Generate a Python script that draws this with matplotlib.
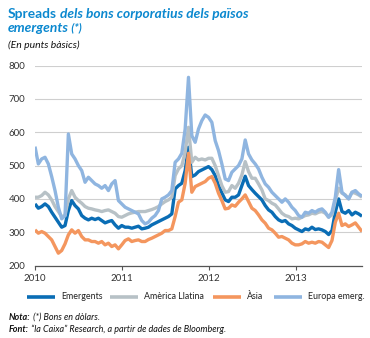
import matplotlib
matplotlib.use('Agg')
import matplotlib.pyplot as plt
import pandas as pd
from matplotlib.lines import Line2D

# ---------------- data (biweekly observations, basis points) ----------------
start_date = '2010-01-01'
step = '14D'

emergents = [385, 372, 377, 385, 377, 360, 345, 330, 315, 320,
             365, 395, 380, 370, 350, 342, 337, 342, 338, 342,
             335, 328, 332, 335, 322, 312, 320, 315, 315, 312,
             315, 318, 310, 312, 315, 322, 327, 332, 337, 342,
             347, 355, 430, 440, 447, 485, 555, 467, 472, 482,
             487, 492, 497, 488, 470, 440, 418, 397, 392, 405,
             405, 412, 440, 468, 440, 428, 417, 407, 397, 380,
             367, 360, 347, 337, 332, 335, 325, 320, 312, 307,
             302, 310, 307, 315, 308, 310, 307, 302, 293, 305,
             360, 400, 362, 357, 365, 352, 360, 355, 348]

america_llatina = [405, 405, 410, 420, 412, 397, 377, 362, 347, 350,
                   400, 425, 405, 395, 387, 377, 372, 370, 367, 365,
                   362, 365, 367, 362, 357, 347, 345, 350, 355, 358,
                   360, 362, 362, 362, 365, 368, 372, 377, 385, 392,
                   397, 405, 470, 490, 500, 540, 615, 510, 525, 517,
                   520, 517, 522, 522, 500, 470, 440, 420, 422, 440,
                   432, 447, 472, 512, 482, 462, 462, 445, 427, 400,
                   395, 387, 382, 370, 357, 350, 347, 340, 342, 340,
                   345, 350, 352, 357, 355, 360, 362, 357, 345, 352,
                   395, 432, 417, 412, 400, 420, 417, 412, 405]

asia = [307, 297, 302, 297, 287, 277, 257, 237, 245, 265,
        292, 307, 297, 305, 287, 277, 277, 272, 272, 267,
        272, 262, 267, 257, 262, 250, 262, 275, 280, 272,
        275, 277, 272, 272, 278, 282, 287, 292, 297, 305,
        305, 310, 347, 390, 397, 447, 537, 420, 437, 442,
        447, 452, 462, 467, 447, 417, 395, 370, 372, 382,
        378, 390, 400, 412, 392, 372, 365, 352, 337, 327,
        312, 307, 297, 285, 287, 282, 277, 267, 262, 262,
        265, 272, 267, 270, 267, 272, 270, 262, 254, 275,
        330, 357, 320, 325, 317, 322, 328, 315, 302]

europa = [557, 505, 520, 525, 505, 467, 425, 375, 340, 350,
          595, 535, 520, 500, 485, 450, 465, 455, 445, 440,
          432, 440, 425, 445, 455, 395, 385, 375, 370, 365,
          360, 355, 335, 325, 330, 342, 350, 365, 400, 405,
          412, 425, 510, 520, 537, 610, 765, 590, 570, 610,
          635, 652, 645, 630, 575, 545, 505, 460, 455, 480,
          490, 500, 520, 577, 535, 517, 505, 490, 465, 445,
          435, 420, 410, 400, 390, 400, 390, 375, 365, 350,
          345, 360, 357, 365, 360, 367, 370, 360, 345, 360,
          405, 488, 420, 410, 400, 420, 425, 415, 408]

series_names = ['Emergents', 'Amèrica Llatina', 'Àsia', 'Europa emerg.']
year_labels = ['2010', '2011', '2012', '2013']
y_ticks = [200, 300, 400, 500, 600, 700, 800]

title_part1 = 'Spreads'
title_part2 = ' dels bons corporatius dels països'
title_line2 = 'emergents'
title_star = ' (*)'
subtitle = '(En punts bàsics)'
note_bold = 'Nota:'
note_text = ' (*) Bons en dòlars.'
source_bold = 'Font:'
source_text = ' \u201Cla Caixa\u201D Research, a partir de dades de Bloomberg.'

# ---------------- style ----------------
colors = ['#0a6db5', '#b7c1c6', '#f4965e', '#8fb5e0']
title_color = '#0b88cf'
FONT = ['Lato', 'DejaVu Sans']
plt.rcParams['font.family'] = FONT

W, H = 370, 338
fig = plt.figure(figsize=(W / 100, H / 100), dpi=100)


def fx(x):
    return x / W


def fy(y):
    return 1 - y / H


ax = fig.add_axes([fx(35), fy(265.5), (362 - 35) / W, (265.5 - 65.7) / H])

dates = pd.date_range(start_date, periods=len(emergents), freq=step)
for vals, name, c in zip([emergents, america_llatina, asia, europa], series_names, colors):
    ax.plot(dates, vals, color=c, lw=2.4, solid_capstyle='butt', label=name)

ax.set_ylim(200, 800)
ax.set_xlim(dates[0], dates[-1])
ax.set_yticks(y_ticks)
ax.set_yticklabels([str(v) for v in y_ticks])
year_pos = [pd.Timestamp(f'{y}-01-01') for y in year_labels]
ax.set_xticks(year_pos)
ax.set_xticklabels(year_labels)

ax.yaxis.grid(True, color='#cfcfcf', lw=0.8)
ax.set_axisbelow(True)
for s in ['left', 'top', 'right']:
    ax.spines[s].set_visible(False)
ax.spines['bottom'].set_color('#555555')
ax.spines['bottom'].set_linewidth(0.9)
ax.tick_params(axis='y', length=0, pad=7, labelsize=7, labelcolor='#333333')
ax.tick_params(axis='x', length=3, width=0.8, color='#555555', pad=3,
               labelsize=7, labelcolor='#333333', direction='out')
ax.patch.set_visible(False)

# ---------------- titles ----------------
fig.canvas.draw()
renderer = fig.canvas.get_renderer()


def text_after(prev, s, **kw):
    bb = prev.get_window_extent(renderer)
    x0 = bb.x1 / fig.bbox.width
    y0 = prev.get_position()[1]
    return fig.text(x0, y0, s, va='baseline', **kw)


t1 = fig.text(fx(8), fy(17.5), title_part1, fontsize=9.9, fontweight='bold',
              color=title_color, va='baseline')
text_after(t1, title_part2, fontsize=9.9, fontweight='bold', fontstyle='italic',
           color=title_color)
t3 = fig.text(fx(8), fy(31.5), title_line2, fontsize=9.9, fontweight='bold',
              fontstyle='italic', color=title_color, va='baseline')
text_after(t3, title_star, fontsize=8, fontweight='bold', fontstyle='italic',
           color=title_color)
fig.text(fx(8), fy(48), subtitle, fontsize=7.5, fontstyle='italic',
         color='#111111', va='baseline')

# ---------------- legend ----------------
leg_y = 296.5
line_starts = [27, 110, 213, 274]
for x0, name, c in zip(line_starts, series_names, colors):
    fig.add_artist(Line2D([fx(x0), fx(x0 + 28)], [fy(leg_y), fy(leg_y)],
                          color=c, lw=2.6, transform=fig.transFigure,
                          solid_capstyle='butt'))
    fig.text(fx(x0 + 34), fy(leg_y), name, fontsize=6.4, color='#222222',
             va='center', ha='left')

# ---------------- notes ----------------
n1 = fig.text(fx(9), fy(319.5), note_bold, fontsize=6.5, fontweight='bold',
              fontstyle='italic', color='#111111', va='baseline')
fig.canvas.draw()
text_after(n1, note_text, fontsize=6.5, fontstyle='italic', color='#111111')
n2 = fig.text(fx(9), fy(331.5), source_bold, fontsize=6.5, fontweight='bold',
              fontstyle='italic', color='#111111', va='baseline')
fig.canvas.draw()
text_after(n2, source_text, fontsize=6.5, fontstyle='italic', color='#111111')

fig.savefig('out.png', dpi=100, facecolor='white')
